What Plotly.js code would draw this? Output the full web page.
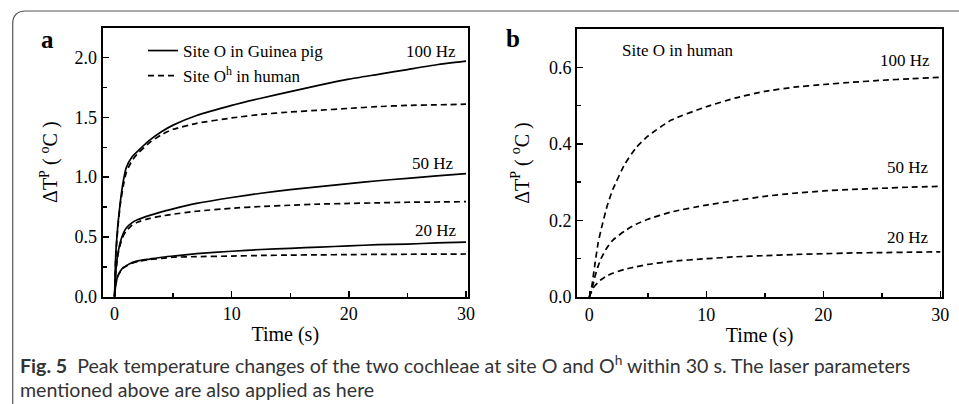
<!DOCTYPE html>
<html>
<head>
<meta charset="utf-8">
<script src="https://cdn.plot.ly/plotly-3.0.1.min.js"></script>
<style>
html,body{margin:0;padding:0;background:#fff;}
#chart{width:959px;height:404px;}
</style>
</head>
<body>
<div id="chart"></div>
<script>
// Time points (s)
const time = [0, 0.1, 0.2, 0.3, 0.5, 0.75, 1, 1.5, 2, 3, 4, 5, 7, 10, 12.5, 15, 17.5, 20, 22.5, 25, 27.5, 30];

// Panel a: site O in guinea pig (solid)
const guinea100 = [0, 0.35, 0.5, 0.62, 0.8, 0.97, 1.08, 1.17, 1.22, 1.31, 1.38, 1.435, 1.515, 1.60, 1.66, 1.715, 1.77, 1.82, 1.86, 1.90, 1.94, 1.97];
const guinea50  = [0, 0.2, 0.3, 0.37, 0.46, 0.53, 0.575, 0.62, 0.645, 0.68, 0.71, 0.735, 0.78, 0.83, 0.865, 0.895, 0.92, 0.945, 0.97, 0.99, 1.01, 1.03];
const guinea20  = [0, 0.1, 0.15, 0.18, 0.215, 0.245, 0.26, 0.285, 0.30, 0.315, 0.33, 0.34, 0.36, 0.38, 0.395, 0.405, 0.415, 0.425, 0.435, 0.44, 0.45, 0.456];

// Panel a: site O^h in human (dashed)
const humanOh100 = [0, 0.33, 0.48, 0.6, 0.78, 0.93, 1.04, 1.14, 1.2, 1.29, 1.355, 1.40, 1.45, 1.495, 1.525, 1.545, 1.56, 1.575, 1.59, 1.60, 1.605, 1.61];
const humanOh50  = [0, 0.19, 0.29, 0.36, 0.44, 0.51, 0.55, 0.6, 0.625, 0.655, 0.675, 0.69, 0.715, 0.74, 0.755, 0.765, 0.775, 0.78, 0.785, 0.79, 0.792, 0.795];
const humanOh20  = [0, 0.1, 0.145, 0.175, 0.21, 0.24, 0.255, 0.28, 0.295, 0.31, 0.32, 0.33, 0.335, 0.34, 0.345, 0.348, 0.35, 0.352, 0.354, 0.355, 0.356, 0.357];

// Panel b: site O in human (dashed)
const humanO100 = [0, 0.01, 0.025, 0.045, 0.09, 0.14, 0.175, 0.235, 0.28, 0.345, 0.39, 0.42, 0.462, 0.497, 0.52, 0.537, 0.548, 0.555, 0.561, 0.566, 0.57, 0.574];
const humanO50  = [0, 0.01, 0.02, 0.03, 0.055, 0.08, 0.1, 0.128, 0.148, 0.172, 0.19, 0.203, 0.222, 0.24, 0.252, 0.263, 0.271, 0.277, 0.281, 0.284, 0.287, 0.289];
const humanO20  = [0, 0.008, 0.015, 0.022, 0.03, 0.038, 0.045, 0.055, 0.062, 0.072, 0.079, 0.085, 0.093, 0.1, 0.105, 0.108, 0.111, 0.113, 0.115, 0.116, 0.117, 0.118];

const legendNames = ["Site O in Guinea pig", "Site O<sup>h</sup> in human"];
const freqLabels = ["100 Hz", "50 Hz", "20 Hz"];
const captionLine1 = "<b>Fig. 5</b>  Peak temperature changes of the two cochleae at site O and O<sup>h</sup> within 30 s. The laser parameters";
const captionLine2 = "mentioned above are also applied as here";

const SERIF = "Liberation Serif, Times New Roman, serif";
const SANS = "Lato, Open Sans, sans-serif";
const W = 959, H = 404;
const px = v => v / W;
const py = v => 1 - v / H;

const solid = {color: "#000", width: 1.7, shape: "spline", smoothing: 0.5};
const dashed = {color: "#000", width: 1.7, dash: "6px,4px", shape: "spline", smoothing: 0.5};

function tr(y, line, xa, ya, name, show) {
  return {x: time, y: y, type: "scatter", mode: "lines", line: line,
    xaxis: xa, yaxis: ya, name: name || "", showlegend: !!show, hoverinfo: "skip"};
}

const data = [
  tr(guinea100, solid, "x", "y", legendNames[0], true),
  tr(humanOh100, dashed, "x", "y", legendNames[1], true),
  tr(guinea50, solid, "x", "y"),
  tr(humanOh50, dashed, "x", "y"),
  tr(guinea20, solid, "x", "y"),
  tr(humanOh20, dashed, "x", "y"),
  tr(humanO100, dashed, "x2", "y2"),
  tr(humanO50, dashed, "x2", "y2"),
  tr(humanO20, dashed, "x2", "y2")
];

const axisCommon = {
  showline: true, linewidth: 2, linecolor: "#000", mirror: true,
  ticks: "inside", ticklen: 6, tickwidth: 1.5, tickcolor: "#000",
  showgrid: false, zeroline: false,
  tickfont: {family: SERIF, size: 18, color: "#000"},
  fixedrange: true
};

const ytitle = "ΔT<sup>P</sup> ( <sup>o</sup>C )";
const lbl = (text, x, y, xref, yref, size, extra) => Object.assign({
  text: text, x: x, y: y, xref: xref, yref: yref, showarrow: false,
  xanchor: "center", yanchor: "middle",
  font: {family: SERIF, size: size, color: "#000"}}, extra || {});

const layout = {
  width: W, height: H,
  margin: {l: 0, r: 0, t: 0, b: 0},
  paper_bgcolor: "#fff", plot_bgcolor: "#fff",
  showlegend: true,
  legend: {x: px(143), y: py(33), xanchor: "left", yanchor: "top",
    bgcolor: "rgba(0,0,0,0)", font: {family: SERIF, size: 17, color: "#000"},
    tracegroupgap: 0, itemwidth: 30},
  xaxis: Object.assign({}, axisCommon, {
    domain: [px(102.5), px(468)], range: [-1.03, 30.17], anchor: "y",
    tick0: 0, dtick: 10, minor: {dtick: 5, ticks: "inside", ticklen: 4, tickcolor: "#000"},
    title: {text: "Time (s)", font: {family: SERIF, size: 20, color: "#000"}, standoff: 4}
  }),
  yaxis: Object.assign({}, axisCommon, {
    domain: [py(296.7), py(27.7)], range: [0, 2.25], anchor: "x",
    tick0: 0, dtick: 0.5, tickformat: ".1f",
    minor: {dtick: 0.25, ticks: "inside", ticklen: 4, tickcolor: "#000"},
    title: {text: ytitle, font: {family: SERIF, size: 20, color: "#000"}, standoff: 11}
  }),
  xaxis2: Object.assign({}, axisCommon, {
    domain: [px(577), px(942.3)], range: [-1.05, 30.17], anchor: "y2",
    tick0: 0, dtick: 10, minor: {dtick: 5, ticks: "inside", ticklen: 4, tickcolor: "#000"},
    title: {text: "Time (s)", font: {family: SERIF, size: 20, color: "#000"}, standoff: 4}
  }),
  yaxis2: Object.assign({}, axisCommon, {
    domain: [py(297), py(29)], range: [0, 0.7], anchor: "x2",
    tick0: 0, dtick: 0.2, tickformat: ".1f",
    minor: {dtick: 0.1, ticks: "inside", ticklen: 4, tickcolor: "#000"},
    title: {text: ytitle, font: {family: SERIF, size: 20, color: "#000"}, standoff: 14}
  }),
  annotations: [
    lbl("<b>a</b>", px(47), py(40), "paper", "paper", 25),
    lbl("<b>b</b>", px(513), py(39), "paper", "paper", 25),
    lbl(freqLabels[0], 27.0, 2.05, "x", "y", 17),
    lbl(freqLabels[1], 27.2, 1.11, "x", "y", 17),
    lbl(freqLabels[2], 27.4, 0.55, "x", "y", 17),
    lbl("Site O in human", 7.5, 0.643, "x2", "y2", 17),
    lbl(freqLabels[0], 27.0, 0.617, "x2", "y2", 17),
    lbl(freqLabels[1], 27.2, 0.339, "x2", "y2", 17),
    lbl(freqLabels[2], 27.2, 0.156, "x2", "y2", 17),
    {text: captionLine1, x: px(18), y: py(364), xref: "paper", yref: "paper", xanchor: "left", yanchor: "middle",
      align: "left", showarrow: false, font: {family: SANS, size: 19.6, color: "#333"}},
    {text: captionLine2, x: px(18), y: py(389), xref: "paper", yref: "paper", xanchor: "left", yanchor: "middle",
      align: "left", showarrow: false, font: {family: SANS, size: 19.6, color: "#333"}}
  ],
  shapes: [
    {type: "path", xref: "paper", yref: "paper",
      path: `M ${px(12.7)},${py(410)} L ${px(12.7)},${py(24)} Q ${px(12.7)},${py(11)} ${px(26)},${py(11)} L ${px(965)},${py(11)}`,
      line: {color: "#555", width: 1.2}}
  ]
};

Plotly.newPlot("chart", data, layout, {displayModeBar: false, staticPlot: true});
</script>
</body>
</html>
